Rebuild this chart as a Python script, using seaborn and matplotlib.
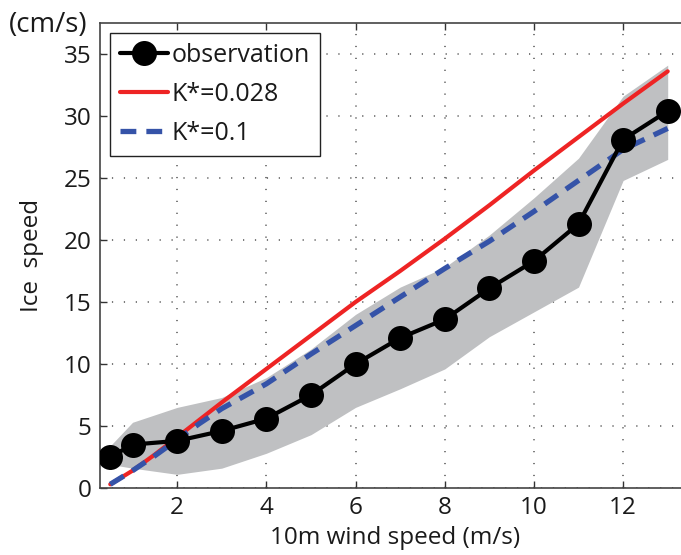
import numpy as np
import pandas as pd
import matplotlib
matplotlib.use("Agg")
import matplotlib.pyplot as plt
import seaborn as sns

# Observations
wind = [0.5, 1, 2, 3, 4, 5, 6, 7, 8, 9, 10, 11, 12, 13]
obs = [2.5, 3.5, 3.8, 4.6, 5.6, 7.5, 10.0, 12.1, 13.6, 16.1, 18.3, 21.3, 28.1, 30.4]
obs_low = [1.9, 1.6, 1.1, 1.6, 2.8, 4.3, 6.5, 8.0, 9.6, 12.2, 14.2, 16.2, 24.8, 26.5]
obs_high = [3.4, 5.3, 6.5, 7.3, 8.9, 11.2, 14.0, 16.2, 17.8, 20.4, 23.4, 26.6, 31.6, 34.1]

# Model curves
wind_model = [0.5, 1, 1.5, 2, 2.5, 3, 4, 5, 6, 7, 8, 9, 10, 11, 12, 13]
k028 = [0.3, 1.4, 2.7, 4.1, 5.5, 6.9, 9.6, 12.3, 15.0, 17.5, 20.1, 22.8, 25.6, 28.3, 31.0, 33.6]
k01 = [0.3, 1.4, 2.6, 3.9, 5.2, 6.4, 8.4, 10.8, 13.1, 15.4, 17.7, 19.9, 22.3, 24.8, 27.3, 29.0]

sns.set_style("white")
plt.rcParams["font.family"] = ["Open Sans", "DejaVu Sans"]

W, H = 681, 555
fig = plt.figure(figsize=(W / 100, H / 100), dpi=100)
ax = fig.add_axes([100 / W, 67 / H, 590 / W, 465 / H])

ax.fill_between(wind, obs_low, obs_high, color="#bfc0c2", linewidth=0, zorder=1)

df_obs = pd.DataFrame({"x": wind, "y": obs})
df_m = pd.DataFrame({"x": wind_model, "a": k028, "b": k01})

sns.lineplot(data=df_m, x="x", y="a", ax=ax, color="#ee2424", linewidth=3.0,
             label="K*=0.028", zorder=3)
sns.lineplot(data=df_m, x="x", y="b", ax=ax, color="#3553a8", linewidth=3.8,
             label="K*=0.1", zorder=4)
ax.lines[-1].set_dashes((3.0, 1.9))
sns.lineplot(data=df_obs, x="x", y="y", ax=ax, color="black", linewidth=3.0,
             marker="o", markersize=18, markeredgewidth=0, label="observation",
             zorder=5)

ax.set_xlim(0.27, 13.5)
ax.set_ylim(0, 37.5)
ax.set_xticks([2, 4, 6, 8, 10, 12])
ax.set_yticks([0, 5, 10, 15, 20, 25, 30, 35])

ax.grid(True, linestyle=(0, (0.8, 7)), color="#555555", linewidth=1.1)
for gl in ax.get_xgridlines() + ax.get_ygridlines():
    gl.set_zorder(0.5)

for s in ["top", "left", "bottom", "right"]:
    ax.spines[s].set_color("#444444")
    ax.spines[s].set_linewidth(1.2)
    ax.spines[s].set_visible(True)

ax.tick_params(axis="both", direction="in", length=5, width=1, color="#333333",
               labelsize=17.5, labelcolor="#1a1a1a", top=True, bottom=True,
               left=True, right=False, pad=6)

ax.set_xlabel("10m wind speed (m/s)", fontsize=17.5, labelpad=4, color="#1a1a1a")
ax.set_ylabel("Ice  speed", fontsize=17.5, labelpad=14, color="#1a1a1a")
fig.text(9 / W, 1 - 25 / H, "(cm/s)", fontsize=20, va="center", ha="left",
         color="#1a1a1a")

handles, labels = ax.get_legend_handles_labels()
order = [labels.index("observation"), labels.index("K*=0.028"), labels.index("K*=0.1")]
leg = ax.legend([handles[i] for i in order], [labels[i] for i in order],
                loc="upper left", bbox_to_anchor=(10 / 590, 1 - 10 / 465),
                fontsize=18, frameon=True, fancybox=False, framealpha=1,
                edgecolor="#222222", handlelength=1.9, handletextpad=0.15,
                borderpad=0.4, labelspacing=0.55, borderaxespad=0)
leg.get_frame().set_linewidth(1.0)
for t in leg.get_texts():
    t.set_color("#1a1a1a")

fig.savefig("out.png", dpi=100)
